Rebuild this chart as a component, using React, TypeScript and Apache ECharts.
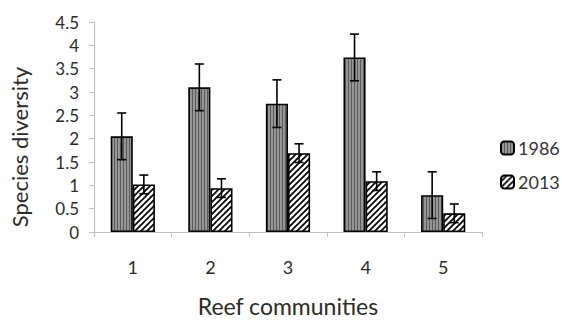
import React, { useEffect, useRef } from "react";
import * as echarts from "echarts";

const categories = ["1", "2", "3", "4", "5"];
const values1986 = [2.05, 3.1, 2.75, 3.74, 0.79];
const values2013 = [1.02, 0.94, 1.69, 1.09, 0.4];
const err1986 = [0.5, 0.5, 0.51, 0.5, 0.5];
const err2013 = [0.2, 0.2, 0.2, 0.2, 0.2];
const yTicks = { min: 0, max: 4.5, interval: 0.5 };

const FONT = "Lato";

function svgUrl(svg: string) {
  return "data:image/svg+xml;utf8," + encodeURIComponent(svg);
}

const stripeSvg =
  '<svg xmlns="http://www.w3.org/2000/svg" width="3" height="10">' +
  '<rect x="0" y="0" width="3" height="10" fill="#969696"/>' +
  '<rect x="0" y="0" width="1" height="10" fill="#5a5a5a"/>' +
  "</svg>";

const hatchSvg =
  '<svg xmlns="http://www.w3.org/2000/svg" width="6" height="6">' +
  '<rect x="0" y="0" width="6" height="6" fill="#ffffff"/>' +
  '<path d="M-1,7 L7,-1 M-1,1 L1,-1 M5,7 L7,5" stroke="#000" stroke-width="1.7"/>' +
  "</svg>";

const stripePattern: any = { image: svgUrl(stripeSvg), repeat: "repeat", imageWidth: 3, imageHeight: 10 };
const hatchPattern: any = { image: svgUrl(hatchSvg), repeat: "repeat", imageWidth: 6, imageHeight: 6 };

const BAR_FRAC = 0.57 / 2;

function makeErrorRender(sign: number) {
  return (params: any, api: any) => {
    const x = api.value(0);
    const lo = api.coord([x, api.value(1)]);
    const hi = api.coord([x, api.value(2)]);
    const band = api.size([1, 0])[0];
    const bw = band * BAR_FRAC;
    const cx = lo[0] + (sign * bw) / 2;
    const cap = 4.5;
    const style = { stroke: "#000", lineWidth: 1.6 };
    return {
      type: "group",
      children: [
        { type: "line", shape: { x1: cx, y1: lo[1], x2: cx, y2: hi[1] }, style },
        { type: "line", shape: { x1: cx - cap, y1: hi[1], x2: cx + cap, y2: hi[1] }, style },
        { type: "line", shape: { x1: cx - cap, y1: lo[1], x2: cx + cap, y2: lo[1] }, style },
      ],
    };
  };
}

export default function App() {
  const ref = useRef<HTMLDivElement>(null);
  useEffect(() => {
    if (!ref.current) return;
    const chart = echarts.init(ref.current, null, { renderer: "svg" });
    const errData1986 = categories.map((_, i) => [i, values1986[i] - err1986[i], values1986[i] + err1986[i]]);
    const errData2013 = categories.map((_, i) => [i, values2013[i] - err2013[i], values2013[i] + err2013[i]]);
    chart.setOption({
      animation: false,
      backgroundColor: "#ffffff",
      textStyle: { fontFamily: FONT },
      grid: { left: 92, top: 22, width: 390, height: 215, containLabel: false },
      legend: {
        data: ["1986", "2013"],
        orient: "vertical",
        left: 500,
        top: 139,
        padding: 0,
        itemWidth: 13,
        itemHeight: 13,
        itemGap: 16,
        textStyle: { fontSize: 18, color: "#333", fontFamily: FONT, padding: [0, 0, 0, -1] },
      },
      xAxis: {
        type: "category",
        data: categories,
        name: "Reef communities",
        nameLocation: "middle",
        nameGap: 62,
        nameTextStyle: { fontSize: 23, color: "#2b2b2b", fontFamily: FONT },
        axisLine: { lineStyle: { color: "#bfbfbf", width: 1 } },
        axisTick: { show: true, length: 5, lineStyle: { color: "#bfbfbf" } },
        axisLabel: { fontSize: 18, color: "#2b2b2b", margin: 26, fontFamily: FONT },
      },
      yAxis: {
        type: "value",
        min: yTicks.min,
        max: yTicks.max,
        interval: yTicks.interval,
        name: "Species diversity",
        nameLocation: "middle",
        nameGap: 64,
        nameTextStyle: { fontSize: 22, color: "#2b2b2b", fontFamily: FONT, padding: [0, 40, 0, 0] },
        axisLine: { show: true, lineStyle: { color: "#bfbfbf", width: 1 } },
        axisTick: { show: true, length: 5, lineStyle: { color: "#bfbfbf" } },
        axisLabel: { fontSize: 17, color: "#2b2b2b", margin: 15, fontFamily: FONT },
        splitLine: { show: false },
      },
      series: [
        {
          name: "1986",
          type: "bar",
          data: values1986,
          barGap: "0%",
          barCategoryGap: "43%",
          itemStyle: { color: stripePattern, borderColor: "#000", borderWidth: 1.6 },
          z: 2,
        },
        {
          name: "2013",
          type: "bar",
          data: values2013,
          barGap: "0%",
          barCategoryGap: "43%",
          itemStyle: { color: hatchPattern, borderColor: "#000", borderWidth: 1.6 },
          z: 2,
        },
        {
          name: "err1986",
          type: "custom",
          data: errData1986,
          encode: { x: 0, y: [1, 2] },
          renderItem: makeErrorRender(-1),
          z: 5,
        },
        {
          name: "err2013",
          type: "custom",
          data: errData2013,
          encode: { x: 0, y: [1, 2] },
          renderItem: makeErrorRender(1),
          z: 5,
        },
      ],
    });
    return () => chart.dispose();
  }, []);
  return <div ref={ref} style={{ width: 562, height: 322, position: "absolute", left: 0, top: 0 }} />;
}
